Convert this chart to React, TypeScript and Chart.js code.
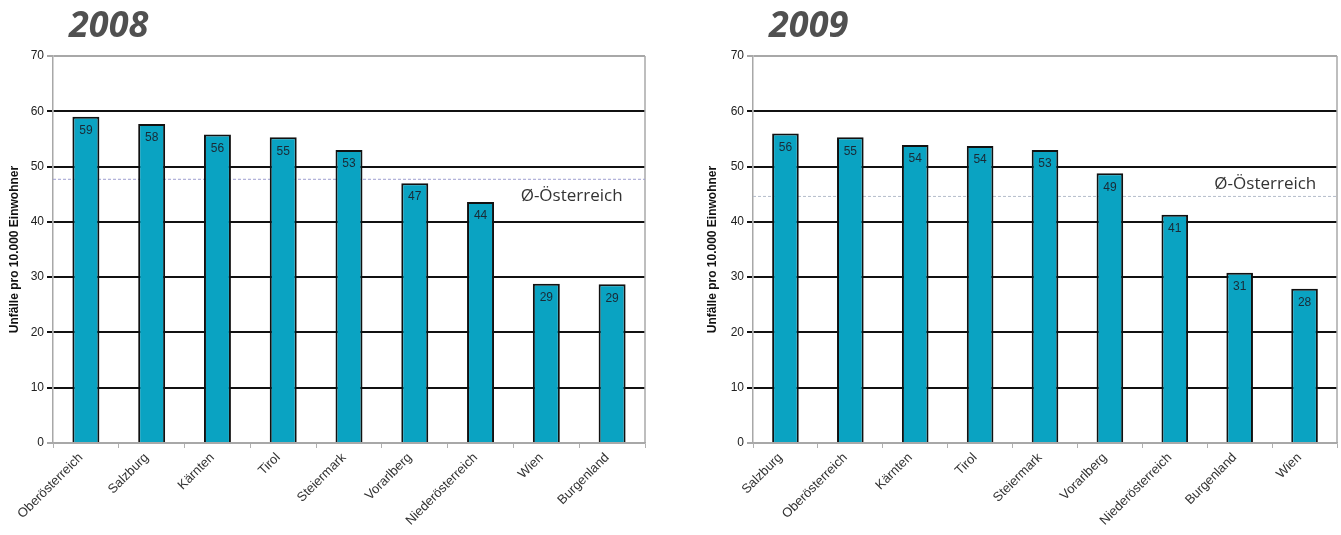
import React, { useEffect, useRef } from 'react';
import { Chart, registerables } from 'chart.js';

Chart.register(...registerables);

// ---- Data ----
const regions2008 = ['Oberösterreich', 'Salzburg', 'Kärnten', 'Tirol', 'Steiermark', 'Vorarlberg', 'Niederösterreich', 'Wien', 'Burgenland'];
const values2008 = [59.0, 57.7, 55.8, 55.3, 53.0, 47.0, 43.6, 28.8, 28.7];
const average2008 = 47.7;

const regions2009 = ['Salzburg', 'Oberösterreich', 'Kärnten', 'Tirol', 'Steiermark', 'Vorarlberg', 'Niederösterreich', 'Burgenland', 'Wien'];
const values2009 = [56.0, 55.3, 53.9, 53.7, 53.0, 48.8, 41.3, 30.8, 27.9];
const average2009 = 44.6;

const yTickValues = [0, 10, 20, 30, 40, 50, 60, 70];
const yAxisTitle = 'Unfälle pro 10.000 Einwohner';
const averageLabel = 'Ø-Österreich';
const chartTitles = ['2008', '2009'];

const decorPlugin = {
  id: 'decor',
  beforeDatasetsDraw(chart: any, _args: any, opts: any) {
    const { ctx, chartArea } = chart;
    const y = chart.scales.y;
    ctx.save();
    ctx.strokeStyle = '#a8a8a8';
    ctx.lineWidth = 1.5;
    ctx.beginPath();
    ctx.moveTo(chartArea.right, chartArea.top);
    ctx.lineTo(chartArea.right, chartArea.bottom);
    ctx.stroke();
    const ay = y.getPixelForValue(opts.average);
    ctx.strokeStyle = opts.avgColor;
    ctx.lineWidth = 1;
    ctx.setLineDash([3, 2]);
    ctx.beginPath();
    ctx.moveTo(chartArea.left, ay);
    ctx.lineTo(chartArea.right, ay);
    ctx.stroke();
    ctx.setLineDash([]);
    ctx.fillStyle = '#333';
    ctx.font = '17px "Open Sans", sans-serif';
    ctx.textAlign = 'left';
    ctx.textBaseline = 'middle';
    ctx.fillText(opts.label, chartArea.left + opts.labelFrac * (chartArea.right - chartArea.left), y.getPixelForValue(opts.labelValue));
    ctx.restore();
  },
  afterDatasetsDraw(chart: any) {
    const { ctx } = chart;
    const meta = chart.getDatasetMeta(0);
    const data = chart.data.datasets[0].data;
    ctx.save();
    ctx.fillStyle = '#1a2a36';
    ctx.font = '12px "Liberation Sans", Arial, sans-serif';
    ctx.textAlign = 'center';
    ctx.textBaseline = 'middle';
    meta.data.forEach((bar: any, i: number) => {
      ctx.fillText(String(Math.round(data[i])), bar.x, bar.y + 14);
    });
    ctx.restore();
  },
};

type BarProps = {
  labels: string[];
  values: number[];
  average: number;
  avgColor: string;
  labelValue: number;
  width: number;
  padLeft: number;
  padRight: number;
  yWidth: number;
};

function BarChart(p: BarProps) {
  const ref = useRef<HTMLCanvasElement | null>(null);
  useEffect(() => {
    if (!ref.current) return;
    const chart = new Chart(ref.current, {
      type: 'bar',
      data: {
        labels: p.labels,
        datasets: [
          {
            data: p.values,
            backgroundColor: '#0aa3c2',
            borderColor: '#111',
            borderWidth: 2,
            barPercentage: 0.41,
            categoryPercentage: 1,
          },
        ],
      },
      options: {
        animation: false,
        responsive: false,
        maintainAspectRatio: false,
        layout: { padding: { left: p.padLeft, right: p.padRight, top: 56, bottom: 0 } },
        plugins: {
          legend: { display: false },
          tooltip: { enabled: false },
          decor: {
            average: p.average,
            avgColor: p.avgColor,
            label: averageLabel,
            labelValue: p.labelValue,
            labelFrac: 0.79,
          },
        } as any,
        scales: {
          x: {
            grid: { offset: true, drawOnChartArea: false, tickLength: 5, color: '#b0b0b0', lineWidth: 1 },
            border: { color: '#a8a8a8', width: 1.5 },
            ticks: {
              minRotation: 45,
              maxRotation: 45,
              padding: 2,
              labelOffset: -5,
              color: '#333',
              font: { family: '"Liberation Sans", Arial, sans-serif', size: 13 },
            },
            afterFit: (s: any) => {
              s.height = 92;
            },
          },
          y: {
            min: 0,
            max: 70,
            afterBuildTicks: (s: any) => {
              s.ticks = yTickValues.map((v) => ({ value: v }));
            },
            grid: {
              color: (c: any) => (c.tick && (c.tick.value === 70 || c.tick.value === 0) ? '#a8a8a8' : '#111'),
              lineWidth: 2,
              tickLength: 6,
            },
            border: { color: '#a8a8a8', width: 1.5 },
            ticks: {
              padding: 3,
              color: '#222',
              font: { family: '"Liberation Sans", Arial, sans-serif', size: 12 },
            },
            title: {
              display: true,
              text: yAxisTitle,
              color: '#111',
              padding: { top: 3, bottom: 0 },
              font: { family: '"Liberation Sans", Arial, sans-serif', size: 12, weight: 'bold' },
            },
            afterFit: (s: any) => {
              s.width = p.yWidth;
            },
          },
        },
      },
      plugins: [decorPlugin],
    });
    return () => chart.destroy();
  }, []);
  return <canvas ref={ref} width={p.width} height={535} style={{ display: 'block' }} />;
}

const titleStyle: React.CSSProperties = {
  position: 'absolute',
  top: 6,
  fontFamily: '"Open Sans", sans-serif',
  fontStyle: 'italic',
  fontWeight: 700,
  fontSize: 36,
  lineHeight: 1,
  color: '#505050',
  margin: 0,
};

export default function App() {
  return (
    <div style={{ position: 'absolute', left: 0, top: 0, width: 1341, height: 535, background: '#fff' }}>
      <div style={{ position: 'absolute', left: 0, top: 0 }}>
        <BarChart
          labels={regions2008}
          values={values2008}
          average={average2008}
          avgColor="#9f9fd0"
          labelValue={44.7}
          width={670}
          padLeft={4}
          padRight={25}
          yWidth={49}
        />
      </div>
      <div style={{ position: 'absolute', left: 670, top: 0 }}>
        <BarChart
          labels={regions2009}
          values={values2009}
          average={average2009}
          avgColor="#b4bccb"
          labelValue={46.8}
          width={671}
          padLeft={32}
          padRight={4}
          yWidth={51}
        />
      </div>
      <div style={{ ...titleStyle, left: 69 }}>{chartTitles[0]}</div>
      <div style={{ ...titleStyle, left: 769 }}>{chartTitles[1]}</div>
    </div>
  );
}
